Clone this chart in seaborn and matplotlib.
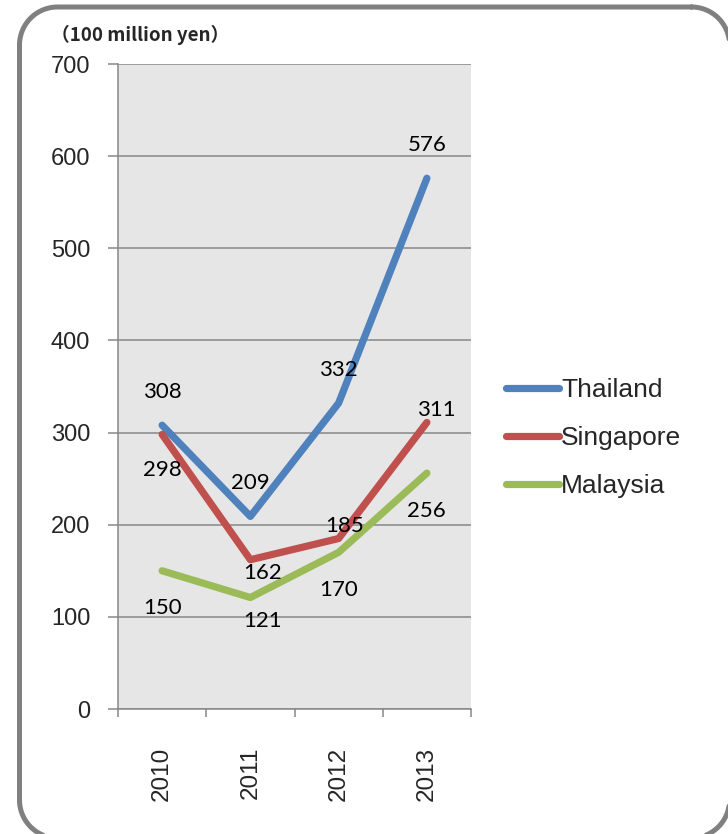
import matplotlib
matplotlib.use("Agg")
import matplotlib.pyplot as plt
import seaborn as sns
import pandas as pd
import numpy as np
from matplotlib.patches import Rectangle

years = ["2010", "2011", "2012", "2013"]
thailand = [308, 209, 332, 576]
singapore = [298, 162, 185, 311]
malaysia = [150, 121, 170, 256]
series_names = ["Thailand", "Singapore", "Malaysia"]
colors = ["#4F81BD", "#C0504D", "#9BBB59"]
y_ticks = [0, 100, 200, 300, 400, 500, 600, 700]
unit_label = "（100 million yen）"

# label offsets in pixels (dx, dy) per series
label_offsets = {
    "Thailand": [(0, 33), (0, 33), (0, 33), (0, 33)],
    "Singapore": [(0, -36), (12, -13), (6, 13), (9, 12)],
    "Malaysia": [(0, -37), (12, -23), (0, -38), (0, -38)],
}

rows = []
for name, vals in zip(series_names, [thailand, singapore, malaysia]):
    for i, v in enumerate(vals):
        rows.append({"year_idx": i, "value": v, "country": name})
df = pd.DataFrame(rows)

sns.set_style("white")
fig = plt.figure(figsize=(7.28, 8.34), dpi=100)

# background axes for the rounded frame (pixel units, y downward)
bg = fig.add_axes([0, 0, 1, 1], zorder=-10)
bg.set_xlim(0, 728)
bg.set_ylim(834, 0)
bg.axis("off")


def rounded_rect(x0, y0, x1, y1, r, n=30):
    pts = []
    corners = [((x1 - r, y0 + r), -90, 0), ((x1 - r, y1 - r), 0, 90),
               ((x0 + r, y1 - r), 90, 180), ((x0 + r, y0 + r), 180, 270)]
    for (cx, cy), a0, a1 in corners:
        t = np.radians(np.linspace(a0, a1, n))
        pts.extend(zip(cx + r * np.cos(t), cy + r * np.sin(t)))
    pts.append(pts[0])
    return np.array(pts)


fr = rounded_rect(19.5, 7, 729.5, 838, 38)
bg.plot(fr[:, 0], fr[:, 1], color="#808080", linewidth=3.6, clip_on=False,
        solid_joinstyle="round", zorder=1)
bg.add_patch(Rectangle((720, 378), 10, 525 - 378, facecolor="white",
                       edgecolor="none", clip_on=False, zorder=5))

ax = fig.add_axes([118 / 728, 1 - 709 / 834, (471 - 118) / 728, (709 - 64) / 834])
ax.set_facecolor("#E6E6E6")

sns.lineplot(data=df, x="year_idx", y="value", hue="country",
             hue_order=series_names, palette=colors, linewidth=5.2,
             ax=ax, legend=True, sort=False)
for ln in ax.get_lines():
    ln.set_solid_capstyle("round")

ax.set_xlim(-0.5, 3.5)
ax.set_ylim(0, 700)
ax.set_yticks(y_ticks)
ax.set_yticklabels([str(t) for t in y_ticks])
ax.yaxis.grid(True, color="#878787", linewidth=1.1)
ax.xaxis.grid(False)
ax.set_axisbelow(True)

ax.set_xticks([-0.5, 0.5, 1.5, 2.5, 3.5])
ax.set_xticklabels([])
ax.set_xticks([0, 1, 2, 3], minor=True)
ax.set_xticklabels(years, minor=True, rotation=90, fontsize=17.5,
                   family="Liberation Sans", va="top")
ax.tick_params(axis="x", which="major", direction="out", length=6,
               color="#878787", width=1.1, bottom=True)
ax.tick_params(axis="x", which="minor", length=0, pad=27)
ax.tick_params(axis="y", direction="out", length=7, color="#878787",
               width=1.1, pad=13, left=True, labelsize=17)
for lab in ax.get_yticklabels():
    lab.set_family("Liberation Sans")

for s in ["top", "right"]:
    ax.spines[s].set_visible(False)
for s in ["left", "bottom"]:
    ax.spines[s].set_color("#878787")
    ax.spines[s].set_linewidth(1.1)
ax.set_xlabel("")
ax.set_ylabel("")

for name, vals in zip(series_names, [thailand, singapore, malaysia]):
    for i, v in enumerate(vals):
        dx, dy = label_offsets[name][i]
        ax.annotate(str(v), (i, v), xytext=(dx, dy), textcoords="offset pixels",
                    ha="center", va="center", fontsize=16, family="Lato",
                    color="black")

handles, labels = ax.get_legend_handles_labels()
ax.get_legend().remove()
leg = fig.legend(handles, labels, loc="center left",
                 bbox_to_anchor=(506 / 728, 1 - 438 / 834), frameon=False,
                 prop={"family": "Liberation Sans", "size": 19},
                 handlelength=2.0, handletextpad=0.08, labelspacing=0.9,
                 borderaxespad=0, borderpad=0)
for h in leg.get_lines():
    h.set_linewidth(5.2)
    h.set_solid_capstyle("round")

fig.text(51 / 728, 1 - 35 / 834, unit_label, ha="left", va="center",
         fontsize=13.5, fontweight="bold",
         family=["Noto Sans CJK JP", "DejaVu Sans"])

fig.savefig("out.png", dpi=100)
